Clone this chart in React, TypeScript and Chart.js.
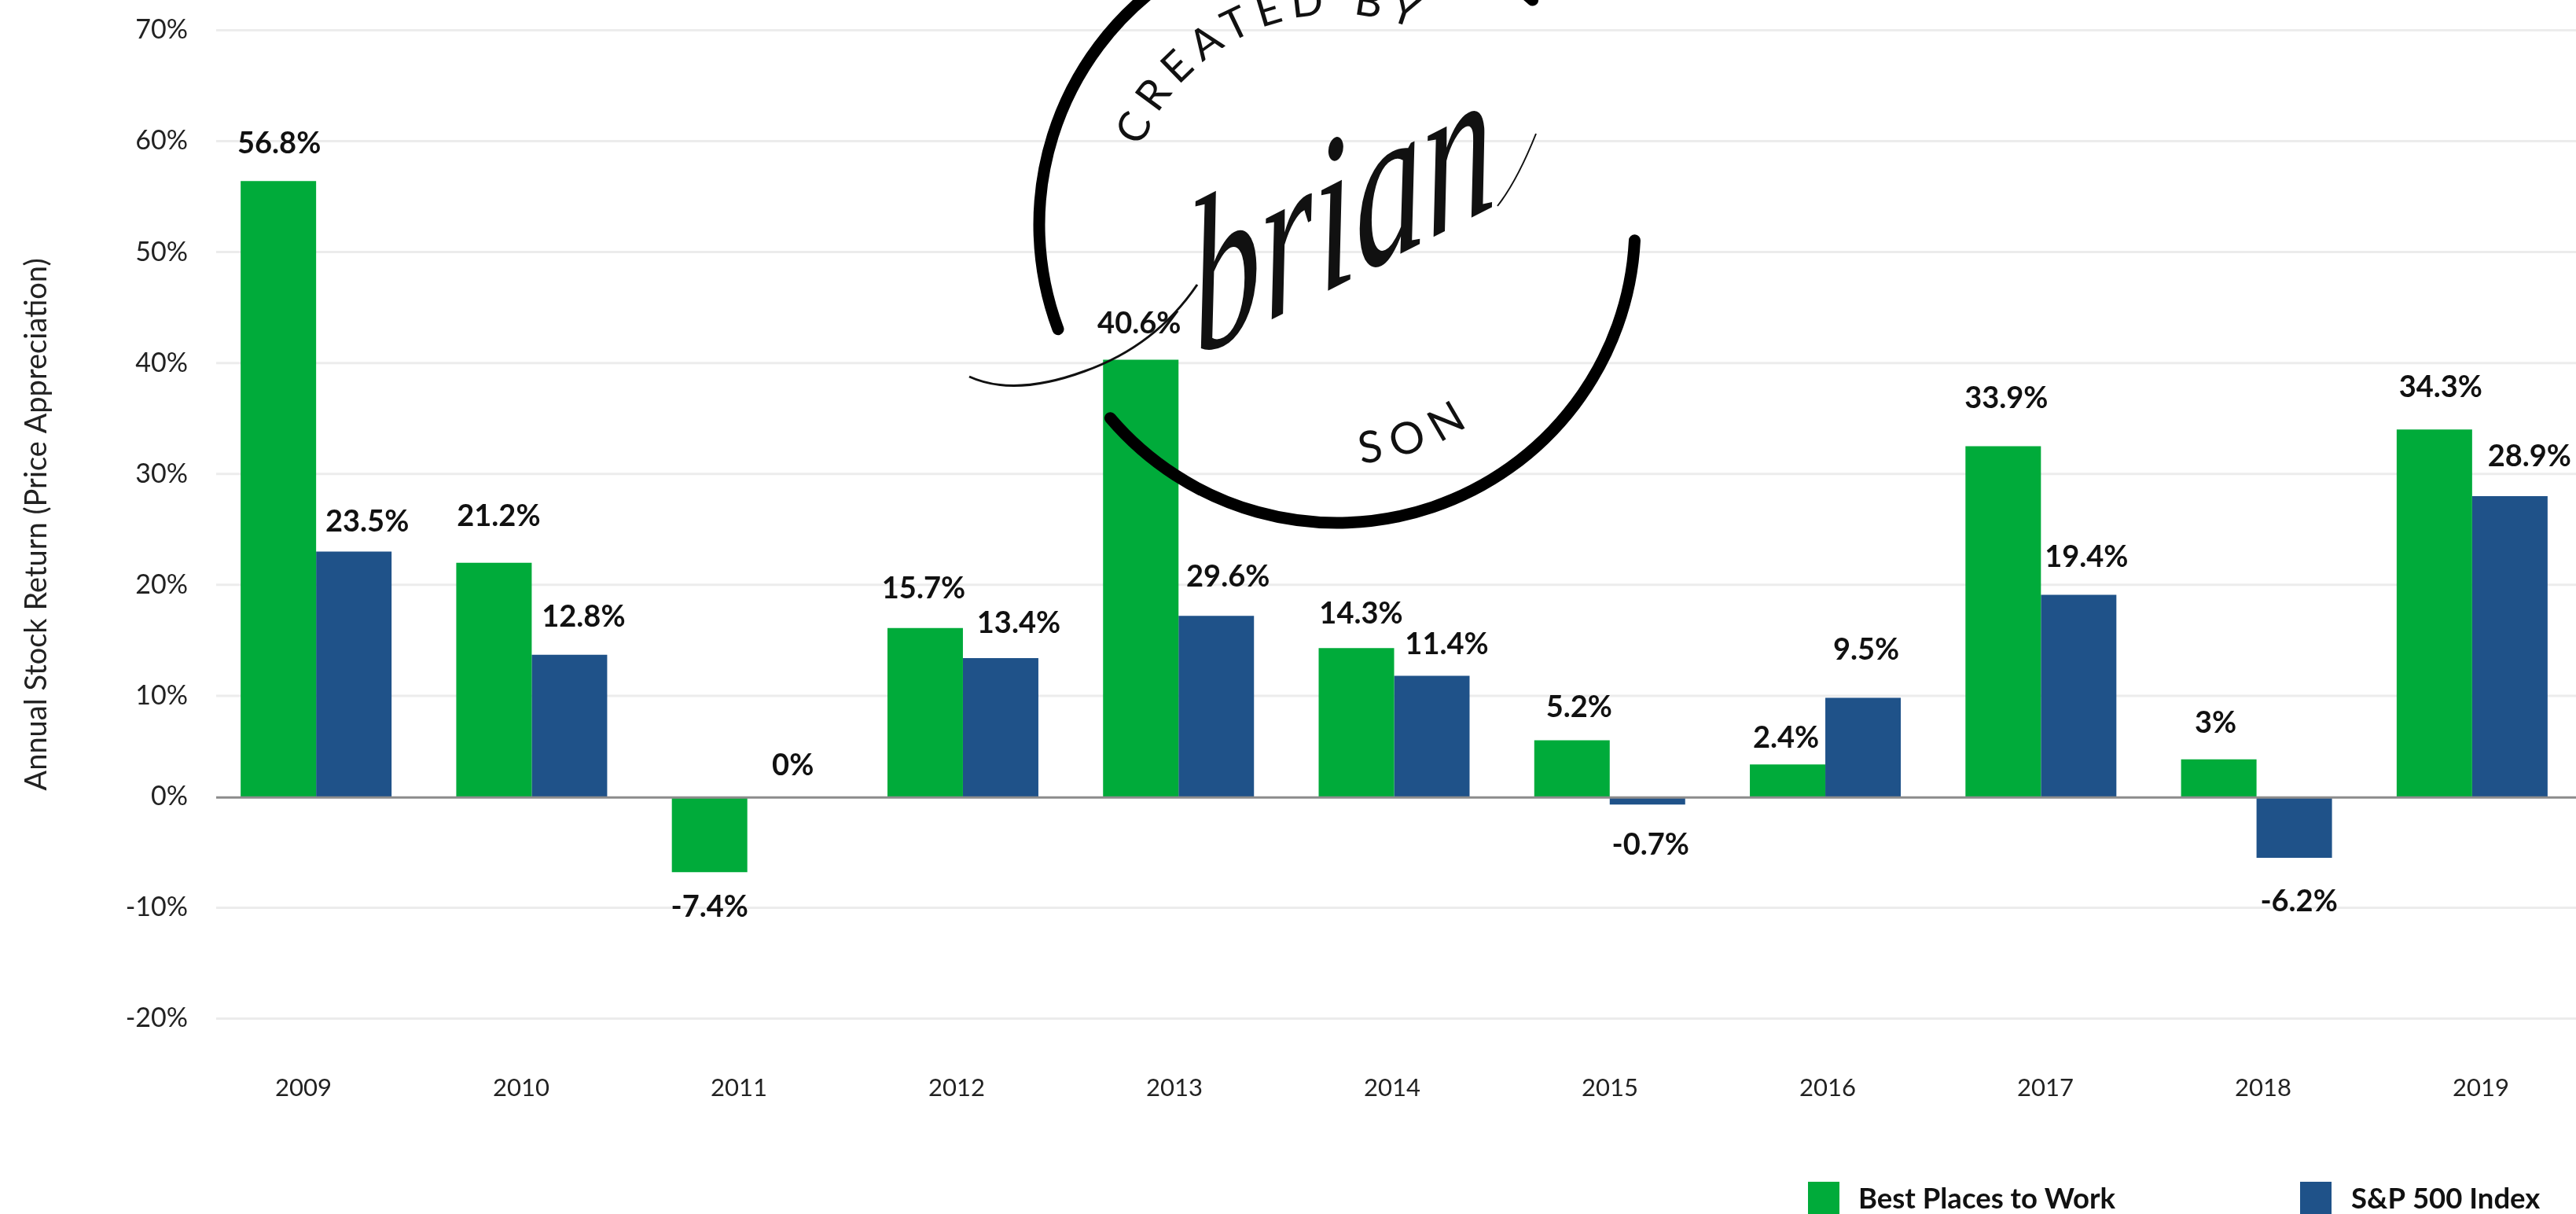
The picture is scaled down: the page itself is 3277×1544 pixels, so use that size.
import React, { useEffect, useRef } from "react";
import { Chart, LinearScale, registerables } from "chart.js";

const years = ["2009", "2010", "2011", "2012", "2013", "2014", "2015", "2016", "2017", "2018", "2019"];
const bestPlacesBars = [56.4, 22, -6.8, 16.1, 40.3, 14.3, 5.6, 3.2, 32.5, 3.7, 34];
const sp500Bars = [23, 13.7, 0, 13.4, 17.2, 11.8, -0.7, 9.8, 19.1, -5.5, 28];
const bestPlacesLabels = ["56.8%", "21.2%", "-7.4%", "15.7%", "40.6%", "14.3%", "5.2%", "2.4%", "33.9%", "3%", "34.3%"];
const sp500Labels = ["23.5%", "12.8%", "0%", "13.4%", "29.6%", "11.4%", "-0.7%", "9.5%", "19.4%", "-6.2%", "28.9%"];
const seriesNames = ["Best Places to Work", "S&P 500 Index"];
const axisTitle = "Annual Stock Return (Price Appreciation)";

const GREEN = "#00AB3A";
const BLUE = "#1F5289";
const TEXT = "#222222";
const FONT = "Lato";

// Hand placement of the value labels, [dx, distance from bar tip], per series
const labelNudge = [
  [[1, 48], [6, 59], [0, 44], [-2, 50], [-2, 46], [6, 44], [9, 42], [-2, 33], [4, 61], [-4, 46], [8, 54]],
  [[17, 38], [18, 48], [10, 40], [23, 44], [15, 50], [19, 40], [4, 52], [4, 61], [10, 48], [6, 56], [25, 50]],
];

// The source axis is slightly compressed between its 0% and 10% lines.
const warp = (v: number) => (v >= 10 ? v : v <= 0 ? v + 0.9 : 0.9 + v * 0.91);

class SourceLinearScale extends LinearScale {
  static id = "sourceLinear";
  static defaults = LinearScale.defaults;
  getPixelForValue(v: number) {
    const a = warp(this.min);
    const b = warp(this.max);
    return this.getPixelForDecimal((warp(v) - a) / (b - a));
  }
}

Chart.register(...registerables, SourceLinearScale);

const gridPlugin = {
  id: "sourceGrid",
  beforeDatasetsDraw(chart: any) {
    const { ctx, scales } = chart;
    ctx.save();
    ctx.strokeStyle = "#ECECEC";
    ctx.lineWidth = 3;
    for (const t of scales.y.ticks) {
      if (t.value === 0) continue;
      const y = scales.y.getPixelForValue(t.value);
      ctx.beginPath();
      ctx.moveTo(275, y);
      ctx.lineTo(chart.width, y);
      ctx.stroke();
    }
    ctx.restore();
  },
  afterDatasetsDraw(chart: any) {
    const { ctx, scales } = chart;
    const y = scales.y.getPixelForValue(0);
    ctx.save();
    ctx.strokeStyle = "#8C8C8C";
    ctx.lineWidth = 3;
    ctx.beginPath();
    ctx.moveTo(275, y + 1);
    ctx.lineTo(chart.width, y + 1);
    ctx.stroke();
    ctx.restore();
  },
};

const valueLabelPlugin = {
  id: "valueLabels",
  afterDraw(chart: any) {
    const { ctx } = chart;
    const texts = [bestPlacesLabels, sp500Labels];
    ctx.save();
    ctx.font = `bold 38px ${FONT}`;
    ctx.fillStyle = "#111111";
    ctx.textAlign = "center";
    ctx.textBaseline = "middle";
    chart.data.datasets.forEach((ds: any, d: number) => {
      chart.getDatasetMeta(d).data.forEach((bar: any, i: number) => {
        const [dx, dy] = labelNudge[d][i];
        const y = ds.data[i] < 0 ? bar.y + dy : bar.y - dy;
        ctx.fillText(texts[d][i], bar.x + dx, y);
      });
    });
    ctx.restore();
  },
};

const legendPlugin = {
  id: "sourceLegend",
  afterDraw(chart: any) {
    const { ctx } = chart;
    const slots = [
      { box: 2300, text: 2364 },
      { box: 2926, text: 2991 },
    ];
    ctx.save();
    ctx.font = `bold 36.5px ${FONT}`;
    ctx.textBaseline = "middle";
    ctx.textAlign = "left";
    chart.data.datasets.forEach((ds: any, d: number) => {
      ctx.fillStyle = ds.backgroundColor;
      ctx.fillRect(slots[d].box, 1503, 40, 41);
      ctx.fillStyle = "#111111";
      ctx.fillText(ds.label, slots[d].text, 1525);
    });
    ctx.restore();
  },
};

// Logo overlay helpers
const CX = 1701;
const CY = 286;
const pt = (r: number, deg: number) => {
  const a = (deg * Math.PI) / 180;
  return `${CX + r * Math.cos(a)} ${CY + r * Math.sin(a)}`;
};

function Logo() {
  return (
    <svg
      width={3277}
      height={1544}
      style={{ position: "absolute", left: 0, top: 0, pointerEvents: "none" }}
    >
      <path
        d={`M ${pt(379, 159.5)} A 379 379 0 0 1 ${pt(379, -49)}`}
        fill="none"
        stroke="#000"
        strokeWidth={15}
        strokeLinecap="round"
      />
      <path
        d={`M ${pt(379, 139.6)} A 379 379 0 0 0 ${pt(379, 3)}`}
        fill="none"
        stroke="#000"
        strokeWidth={15}
        strokeLinecap="round"
      />
      <path id="logoTop" d={`M ${pt(268, 190)} A 268 268 0 0 1 ${pt(268, 305)}`} fill="none" />
      <path id="logoBottom" d={`M ${pt(305, 100)} A 305 305 0 0 0 ${pt(305, 36)}`} fill="none" />
      <text fontFamily="Lato" fontSize={54} fill="#111" letterSpacing={11} textAnchor="middle">
        <textPath href="#logoTop" startOffset="50%">
          CREATED BY
        </textPath>
      </text>
      <text fontFamily="Lato" fontSize={56} fill="#111" letterSpacing={14} textAnchor="middle">
        <textPath href="#logoBottom" startOffset="48%">
          SON
        </textPath>
      </text>
      <path
        d="M1233 479 Q1290 505 1380 472 Q1470 440 1523 362"
        fill="none"
        stroke="#111"
        strokeWidth={3}
      />
      <path d="M1905 262 Q1930 230 1954 170" fill="none" stroke="#111" strokeWidth={2} />
      <text
        transform="translate(1522 455) rotate(-27) skewX(-22) scale(0.97 1.25)"
        fontFamily="Liberation Serif"
        fontStyle="italic"
        fontSize={205}
        fill="#111"
      >
        brian
      </text>
    </svg>
  );
}

export default function App() {
  const ref = useRef<HTMLCanvasElement>(null);

  useEffect(() => {
    const chart = new Chart(ref.current as HTMLCanvasElement, {
      type: "bar",
      data: {
        labels: years,
        datasets: [
          { label: seriesNames[0], data: bestPlacesBars, backgroundColor: GREEN, categoryPercentage: 0.7, barPercentage: 1 },
          { label: seriesNames[1], data: sp500Bars, backgroundColor: BLUE, categoryPercentage: 0.7, barPercentage: 1 },
        ],
      },
      plugins: [gridPlugin, valueLabelPlugin, legendPlugin],
      options: {
        responsive: false,
        animation: false,
        layout: { padding: { top: 37.7, left: 0, right: 0, bottom: 0 } },
        plugins: { legend: { display: false }, tooltip: { enabled: false } },
        scales: {
          x: {
            type: "category",
            display: true,
            grid: { display: false },
            border: { display: false },
            ticks: { display: false },
            afterFit: (s: any) => {
              s.height = 0;
            },
          },
          // Year labels sit on their own, slightly wider spacing than the bars
          xLabels: {
            type: "linear",
            position: "bottom",
            bounds: "data",
            offset: false,
            min: (265 - 386) / 277,
            max: (3282 - 386) / 277,
            grid: { display: false },
            border: { display: false },
            afterBuildTicks: (s: any) => {
              s.ticks = years.map((_, i) => ({ value: i }));
            },
            afterFit: (s: any) => {
              s.height = 248.5;
            },
            ticks: {
              autoSkip: false,
              maxRotation: 0,
              padding: 62,
              color: TEXT,
              font: { family: FONT, size: 31 },
              callback: (v: any) => years[v],
            },
          },
          y: {
            type: "sourceLinear",
            min: -20,
            max: 70,
            grid: { display: false },
            border: { display: false },
            afterFit: (s: any) => {
              s.width = 265;
            },
            title: {
              display: true,
              text: axisTitle,
              color: TEXT,
              font: { family: FONT, size: 38 },
              padding: { top: 24, bottom: 0 },
            },
            ticks: {
              stepSize: 10,
              padding: 18,
              color: TEXT,
              font: { family: FONT, size: 34 },
              callback: (v: any) => `${v}%`,
            },
          },
        } as any,
      } as any,
    });
    return () => chart.destroy();
  }, []);

  return (
    <div style={{ position: "absolute", left: 0, top: 0, width: 3277, height: 1544, overflow: "hidden", background: "#fff" }}>
      <canvas ref={ref} width={3282} height={1544} style={{ display: "block" }} />
      <Logo />
    </div>
  );
}
